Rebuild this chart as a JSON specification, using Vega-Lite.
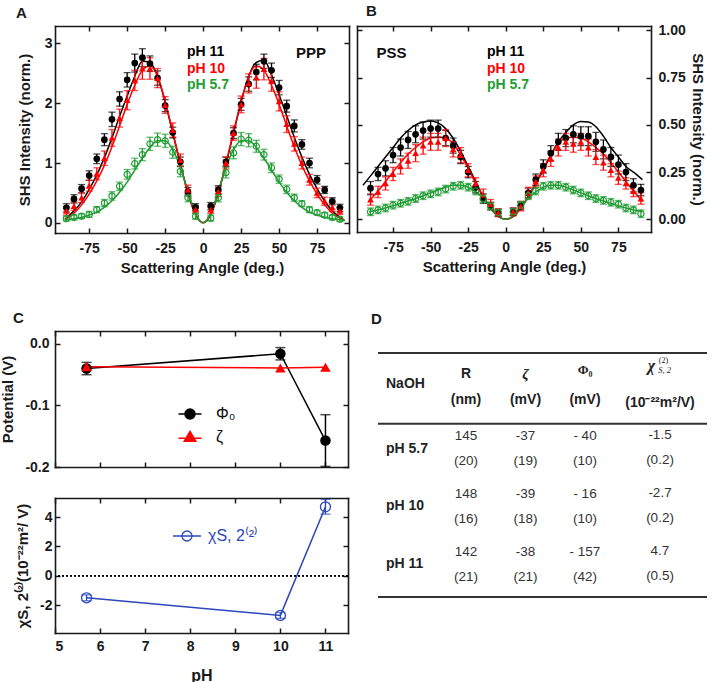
{
  "$schema": "https://vega.github.io/schema/vega-lite/v6.json",
  "padding": {"left": 0, "top": 4, "right": 0, "bottom": 0},
  "background": "white",
  "columns": 2,
  "align": "none",
  "bounds": "flush",
  "spacing": {"row": 31, "column": 29},
  "resolve": {"scale": {"color": "independent", "shape": "independent"}, "legend": {"color": "independent", "shape": "independent"}},
  "concat": [
    {
      "width": 294,
      "height": 274,
      "title": {"text": "A", "dx": -39},
      "layer": [
        {
          "data": {"name": "fitA"},
          "mark": {"type": "line", "interpolate": "monotone", "strokeWidth": 1.5},
          "encoding": {
            "x": {"field": "deg", "type": "quantitative", "scale": {"domain": [-97.5, 96], "nice": false, "zero": false},
                  "axis": {"offset": -67, "values": [-75, -50, -25, 0, 25, 50, 75], "labelExpr": "replace(datum.label, '\u2212', '-')", "title": "Scattering Angle (deg.)", "labelPadding": 13, "titlePadding": 5}},
            "y": {"field": "val", "type": "quantitative", "scale": {"domain": [-0.17, 3.29], "nice": false, "zero": false, "range": [207, 0]},
                  "axis": {"values": [0, 1, 2, 3], "title": "SHS Intensity (norm.)", "labelPadding": 8, "titlePadding": 12}},
            "color": {"field": "series", "type": "nominal",
                      "scale": {"domain": ["pH 11", "pH 10", "pH 5.7"], "range": ["#000000", "#ff0000", "#1f9d33"]},
                      "legend": {"orient": "none", "legendX": 118, "legendY": 19, "title": null, "symbolSize": 0, "symbolOpacity": 0, "symbolStrokeWidth": 0, "labelOffset": 0, "labelFontSize": 14, "labelFontWeight": "bold", "rowPadding": 2.5,
                                 "encode": {"labels": {"update": {"fill": {"signal": "datum.value === 'pH 11' ? '#000000' : datum.value === 'pH 10' ? '#ff0000' : '#1f9d33'"}}}}}}
          }
        },
        {
          "data": {"name": "ptsA"},
          "mark": {"type": "errorbar", "ticks": {"size": 7}, "thickness": 1.3},
          "encoding": {
            "x": {"field": "deg", "type": "quantitative", "axis": null},
            "y": {"field": "val", "type": "quantitative", "axis": null},
            "yError": {"field": "err"},
            "color": {"field": "series", "type": "nominal"}
          }
        },
        {
          "data": {"name": "ptsA"},
          "transform": [{"filter": "datum.series === 'pH 11'"}],
          "mark": {"type": "point", "shape": "circle", "filled": true, "size": 45, "opacity": 1},
          "encoding": {
            "x": {"field": "deg", "type": "quantitative", "axis": null},
            "y": {"field": "val", "type": "quantitative", "axis": null},
            "color": {"field": "series", "type": "nominal"}
          }
        },
        {
          "data": {"name": "ptsA"},
          "transform": [{"filter": "datum.series === 'pH 10'"}],
          "mark": {"type": "point", "shape": "triangle-up", "filled": true, "size": 45, "opacity": 1},
          "encoding": {
            "x": {"field": "deg", "type": "quantitative", "axis": null},
            "y": {"field": "val", "type": "quantitative", "axis": null},
            "color": {"field": "series", "type": "nominal"}
          }
        },
        {
          "data": {"name": "ptsA"},
          "transform": [{"filter": "datum.series === 'pH 5.7'"}],
          "mark": {"type": "point", "filled": false, "size": 38, "strokeWidth": 1.2, "opacity": 1},
          "encoding": {
            "x": {"field": "deg", "type": "quantitative", "axis": null},
            "y": {"field": "val", "type": "quantitative", "axis": null},
            "color": {"field": "series", "type": "nominal"}
          }
        },
        {
          "data": {"values": [{"label": "PPP"}]},
          "mark": {"type": "text", "fontSize": 15, "fontWeight": "bold", "color": "#111111", "font": "Liberation Sans"},
          "encoding": {
            "text": {"field": "label"},
            "x": {"datum": 71, "type": "quantitative", "axis": {"orient": "top", "labels": false, "title": null, "values": [-75, -50, -25, 0, 25, 50, 75]}},
            "y": {"datum": 2.84, "type": "quantitative", "axis": {"orient": "right", "labels": false, "title": null, "values": [0, 1, 2, 3]}}
          }
        }
      ],
      "resolve": {"axis": {"x": "independent", "y": "independent"}}
    },
    {
      "width": 273,
      "height": 274,
      "title": {"text": "B", "dx": -12},
      "layer": [
        {
          "data": {"name": "fitB"},
          "mark": {"type": "line", "interpolate": "monotone", "strokeWidth": 1.5},
          "encoding": {
            "x": {"field": "deg", "type": "quantitative", "scale": {"domain": [-99, 96.7], "nice": false, "zero": false, "range": [-21, 273]},
                  "axis": {"offset": -68, "values": [-75, -50, -25, 0, 25, 50, 75], "labelExpr": "replace(datum.label, '\u2212', '-')", "title": "Scattering Angle (deg.)", "labelPadding": 13, "titlePadding": 5}},
            "y": {"field": "val", "type": "quantitative", "scale": {"domain": [-0.067, 1.023], "nice": false, "zero": false, "range": [206, 0]},
                  "axis": {"orient": "right", "values": [0, 0.25, 0.5, 0.75, 1], "format": ".2f", "title": "SHS Intensity (norm.)", "labelPadding": 12, "titlePadding": 4}},
            "color": {"field": "series", "type": "nominal",
                      "scale": {"domain": ["pH 11", "pH 10", "pH 5.7"], "range": ["#000000", "#ff0000", "#1f9d33"]},
                      "legend": {"orient": "none", "legendX": 95, "legendY": 19, "title": null, "symbolSize": 0, "symbolOpacity": 0, "symbolStrokeWidth": 0, "labelOffset": 0, "labelFontSize": 14, "labelFontWeight": "bold", "rowPadding": 2.5,
                                 "encode": {"labels": {"update": {"fill": {"signal": "datum.value === 'pH 11' ? '#000000' : datum.value === 'pH 10' ? '#ff0000' : '#1f9d33'"}}}}}}
          }
        },
        {
          "data": {"name": "ptsB"},
          "mark": {"type": "errorbar", "ticks": {"size": 7}, "thickness": 1.3},
          "encoding": {
            "x": {"field": "deg", "type": "quantitative", "axis": null},
            "y": {"field": "val", "type": "quantitative", "axis": null},
            "yError": {"field": "err"},
            "color": {"field": "series", "type": "nominal"}
          }
        },
        {
          "data": {"name": "ptsB"},
          "transform": [{"filter": "datum.series === 'pH 11'"}],
          "mark": {"type": "point", "shape": "circle", "filled": true, "size": 45, "opacity": 1},
          "encoding": {
            "x": {"field": "deg", "type": "quantitative", "axis": null},
            "y": {"field": "val", "type": "quantitative", "axis": null},
            "color": {"field": "series", "type": "nominal"}
          }
        },
        {
          "data": {"name": "ptsB"},
          "transform": [{"filter": "datum.series === 'pH 10'"}],
          "mark": {"type": "point", "shape": "triangle-up", "filled": true, "size": 45, "opacity": 1},
          "encoding": {
            "x": {"field": "deg", "type": "quantitative", "axis": null},
            "y": {"field": "val", "type": "quantitative", "axis": null},
            "color": {"field": "series", "type": "nominal"}
          }
        },
        {
          "data": {"name": "ptsB"},
          "transform": [{"filter": "datum.series === 'pH 5.7'"}],
          "mark": {"type": "point", "filled": false, "size": 38, "strokeWidth": 1.2, "opacity": 1},
          "encoding": {
            "x": {"field": "deg", "type": "quantitative", "axis": null},
            "y": {"field": "val", "type": "quantitative", "axis": null},
            "color": {"field": "series", "type": "nominal"}
          }
        },
        {
          "data": {"values": [{"label": "PSS"}]},
          "mark": {"type": "text", "fontSize": 15, "fontWeight": "bold", "color": "#111111", "font": "Liberation Sans"},
          "encoding": {
            "text": {"field": "label"},
            "x": {"datum": -76, "type": "quantitative", "axis": {"orient": "top", "labels": false, "title": null, "values": [-75, -50, -25, 0, 25, 50, 75]}},
            "y": {"datum": 0.88, "type": "quantitative", "axis": {"orient": "left", "offset": 21, "labels": false, "title": null, "values": [0, 0.25, 0.5, 0.75, 1]}}
          }
        }
      ],
      "resolve": {"axis": {"x": "independent", "y": "independent"}}
    },
    {
      "width": 293,
      "height": 136,
      "title": {"text": "C", "dx": -42},
      "data": {"name": "pot"},
      "layer": [
        {
          "mark": {"type": "line", "strokeWidth": 1.5},
          "encoding": {
            "x": {"field": "pH", "type": "quantitative", "scale": {"domain": [5, 11.5], "nice": false, "zero": false},
                  "axis": {"values": [5, 6, 7, 8, 9, 10, 11], "labels": false, "title": null}},
            "y": {"field": "val", "type": "quantitative", "scale": {"domain": [-0.2, 0.021], "nice": false, "zero": false},
                  "axis": {"values": [0, -0.1, -0.2], "format": ".1f", "labelExpr": "replace(datum.label, '\u2212', '-')", "title": "Potential (V)", "labelPadding": 11, "titlePadding": 9}},
            "color": {"field": "series", "type": "nominal",
                      "scale": {"domain": ["Φ₀", "ζ"], "range": ["#000000", "#ff0000"]},
                      "legend": {"orient": "none", "legendX": 127, "legendY": 75, "title": null, "symbolSize": 100, "symbolStrokeWidth": 1.5, "labelOffset": 18, "labelFontSize": 16, "labelColor": "#111111", "rowPadding": 6,
                                 "encode": {"symbols": {"update": {
                                   "shape": {"signal": "datum.value === 'Φ₀' ? 'M-2.3,0L2.3,0M-1,0A1,1,0,1,1,1,0A1,1,0,1,1,-1,0Z' : 'M-2.3,0.25L2.3,0.25M0,-1.1L1.15,0.85L-1.15,0.85Z'"},
                                   "strokeWidth": {"value": 1.5},
                                   "opacity": {"value": 1}}}}}}
          }
        },
        {
          "transform": [{"filter": "datum.err > 0"}],
          "mark": {"type": "errorbar", "ticks": {"size": 10}, "thickness": 1.5},
          "encoding": {
            "x": {"field": "pH", "type": "quantitative", "axis": null},
            "y": {"field": "val", "type": "quantitative", "axis": null},
            "yError": {"field": "err"},
            "color": {"field": "series", "type": "nominal"}
          }
        },
        {
          "transform": [{"filter": "datum.series === 'Φ₀'"}],
          "mark": {"type": "point", "shape": "circle", "filled": true, "size": 110, "opacity": 1},
          "encoding": {
            "x": {"field": "pH", "type": "quantitative", "axis": null},
            "y": {"field": "val", "type": "quantitative", "axis": null},
            "color": {"field": "series", "type": "nominal"}
          }
        },
        {
          "transform": [{"filter": "datum.series === 'ζ'"}],
          "mark": {"type": "point", "shape": "triangle-up", "filled": true, "size": 110, "opacity": 1},
          "encoding": {
            "x": {"field": "pH", "type": "quantitative", "axis": null},
            "y": {"field": "val", "type": "quantitative", "axis": null},
            "color": {"field": "series", "type": "nominal"}
          }
        },
        {
          "mark": {"type": "point", "opacity": 0},
          "encoding": {
            "x": {"field": "pH", "type": "quantitative", "axis": {"orient": "top", "values": [5, 6, 7, 8, 9, 10, 11], "labels": false, "title": null}},
            "y": {"field": "val", "type": "quantitative", "axis": {"orient": "right", "values": [0, -0.1, -0.2], "labels": false, "title": null}}
          }
        }
      ],
      "resolve": {"axis": {"x": "independent", "y": "independent"}}
    },
    {
      "width": 329,
      "height": 136,
      "title": {"text": "D", "dx": -7},
      "layer": [
        {
          "data": {"values": [{"row": "header"}]},
          "mark": {"type": "rule", "color": "#333333", "strokeWidth": 2},
          "encoding": {
            "y": {"field": "row", "type": "nominal", "bandPosition": -0.225,
                  "scale": {"type": "band", "domain": ["header", "pH 5.7", "pH 10", "pH 11"], "range": [35, 266], "paddingInner": 0, "paddingOuter": 0},
                  "axis": null}
          }
        },
        {
          "data": {"values": [{"row": "header"}]},
          "mark": {"type": "rule", "color": "#333333", "strokeWidth": 2},
          "encoding": {"y": {"field": "row", "type": "nominal", "bandPosition": 1, "axis": null}}
        },
        {
          "data": {"values": [{"row": "pH 11"}]},
          "mark": {"type": "rule", "color": "#333333", "strokeWidth": 2},
          "encoding": {"y": {"field": "row", "type": "nominal", "bandPosition": 1, "axis": null}}
        },
        {
          "data": {"name": "table"},
          "transform": [{"filter": "datum.label && datum.row !== 'header'"}],
          "mark": {"type": "text", "align": "left", "dx": -20.5, "dy": -4, "fontSize": 14, "fontWeight": "bold", "color": "#222222", "font": "Liberation Sans"},
          "encoding": {
            "x": {"field": "col", "type": "nominal", "scale": {"type": "point", "domain": ["NaOH", "R", "zeta", "Phi", "chi"], "range": [28.5, 266.5], "padding": 0}, "axis": null},
            "y": {"field": "row", "type": "nominal", "axis": null},
            "text": {"field": "label"}
          }
        },
        {
          "data": {"name": "table"},
          "transform": [{"filter": "datum.label && datum.row === 'header'"}],
          "mark": {"type": "text", "align": "left", "dx": -20.5, "dy": -11, "fontSize": 14, "fontWeight": "bold", "color": "#222222", "font": "Liberation Sans"},
          "encoding": {
            "x": {"field": "col", "type": "nominal", "axis": null},
            "y": {"field": "row", "type": "nominal", "axis": null},
            "text": {"field": "label"}
          }
        },
        {
          "data": {"name": "table"},
          "transform": [{"filter": "datum.row === 'header' && datum.col === 'R'"}],
          "mark": {"type": "text", "dy": -21, "fontSize": 14, "fontWeight": "bold", "color": "#222222", "font": "Liberation Sans"},
          "encoding": {
            "x": {"field": "col", "type": "nominal", "axis": null},
            "y": {"field": "row", "type": "nominal", "axis": null},
            "text": {"field": "top"}
          }
        },
        {
          "data": {"name": "table"},
          "transform": [{"filter": "datum.row === 'header' && datum.col === 'Phi'"}],
          "mark": {"type": "text", "dy": -25, "fontSize": 13, "fontWeight": "bold", "color": "#222222", "font": "Liberation Serif"},
          "encoding": {
            "x": {"field": "col", "type": "nominal", "axis": null},
            "y": {"field": "row", "type": "nominal", "axis": null},
            "text": {"field": "top"}
          }
        },
        {
          "data": {"name": "table"},
          "transform": [{"filter": "datum.row === 'header' && datum.col === 'zeta'"}],
          "mark": {"type": "text", "dy": -21, "fontSize": 15, "fontWeight": "bold", "fontStyle": "italic", "color": "#222222", "font": "Liberation Serif"},
          "encoding": {
            "x": {"field": "col", "type": "nominal", "axis": null},
            "y": {"field": "row", "type": "nominal", "axis": null},
            "text": {"field": "top"}
          }
        },
        {
          "data": {"name": "table"},
          "transform": [{"filter": "datum.row === 'header' && datum.col === 'chi'"}],
          "mark": {"type": "text", "dx": 7, "dy": -29, "fontSize": 16, "fontWeight": "bold", "fontStyle": "italic", "color": "#222222", "font": "Liberation Serif"},
          "encoding": {
            "x": {"field": "col", "type": "nominal", "axis": null},
            "y": {"field": "row", "type": "nominal", "axis": null},
            "text": {"field": "top"}
          }
        },
        {
          "data": {"name": "table"},
          "transform": [{"filter": "datum.row === 'header' && datum.col === 'chi'"}],
          "mark": {"type": "text", "dx": 19, "dy": -34, "fontSize": 8, "color": "#222222", "font": "Liberation Serif"},
          "encoding": {
            "x": {"field": "col", "type": "nominal", "axis": null},
            "y": {"field": "row", "type": "nominal", "axis": null},
            "text": {"field": "sup"}
          }
        },
        {
          "data": {"name": "table"},
          "transform": [{"filter": "datum.row === 'header' && datum.col === 'chi'"}],
          "mark": {"type": "text", "dx": 20, "dy": -25, "fontSize": 8.5, "fontStyle": "italic", "color": "#222222", "font": "Liberation Serif"},
          "encoding": {
            "x": {"field": "col", "type": "nominal", "axis": null},
            "y": {"field": "row", "type": "nominal", "axis": null},
            "text": {"field": "sub"}
          }
        },
        {
          "data": {"name": "table"},
          "transform": [{"filter": "datum.row === 'header' && datum.bot && datum.col !== 'chi'"}],
          "mark": {"type": "text", "dy": 5, "fontSize": 14, "fontWeight": "bold", "color": "#222222", "font": "Liberation Sans"},
          "encoding": {
            "x": {"field": "col", "type": "nominal", "axis": null},
            "y": {"field": "row", "type": "nominal", "axis": null},
            "text": {"field": "bot"}
          }
        },
        {
          "data": {"name": "table"},
          "transform": [{"filter": "datum.row === 'header' && datum.col === 'chi'"}],
          "mark": {"type": "text", "dx": 15.5, "dy": 8, "fontSize": 14, "fontWeight": "bold", "color": "#222222", "font": "Liberation Sans"},
          "encoding": {
            "x": {"field": "col", "type": "nominal", "axis": null},
            "y": {"field": "row", "type": "nominal", "axis": null},
            "text": {"field": "bot"}
          }
        },
        {
          "data": {"name": "table"},
          "transform": [{"filter": "datum.row !== 'header' && datum.top && datum.col !== 'chi'"}],
          "mark": {"type": "text", "dy": -16.5, "fontSize": 13.5, "color": "#333333", "font": "Liberation Sans"},
          "encoding": {
            "x": {"field": "col", "type": "nominal", "axis": null},
            "y": {"field": "row", "type": "nominal", "axis": null},
            "text": {"field": "top"}
          }
        },
        {
          "data": {"name": "table"},
          "transform": [{"filter": "datum.row !== 'header' && datum.bot && datum.col !== 'chi'"}],
          "mark": {"type": "text", "dy": 8.5, "fontSize": 13.5, "color": "#333333", "font": "Liberation Sans"},
          "encoding": {
            "x": {"field": "col", "type": "nominal", "axis": null},
            "y": {"field": "row", "type": "nominal", "axis": null},
            "text": {"field": "bot"}
          }
        },
        {
          "data": {"name": "table"},
          "transform": [{"filter": "datum.row !== 'header' && datum.col === 'chi'"}],
          "mark": {"type": "text", "dx": 15.5, "dy": -17.5, "fontSize": 13.5, "color": "#333333", "font": "Liberation Sans"},
          "encoding": {
            "x": {"field": "col", "type": "nominal", "axis": null},
            "y": {"field": "row", "type": "nominal", "axis": null},
            "text": {"field": "top"}
          }
        },
        {
          "data": {"name": "table"},
          "transform": [{"filter": "datum.row !== 'header' && datum.col === 'chi'"}],
          "mark": {"type": "text", "dx": 15.5, "dy": 7.5, "fontSize": 13.5, "color": "#333333", "font": "Liberation Sans"},
          "encoding": {
            "x": {"field": "col", "type": "nominal", "axis": null},
            "y": {"field": "row", "type": "nominal", "axis": null},
            "text": {"field": "bot"}
          }
        }
      ]
    },
    {
      "width": 293,
      "height": 135,
      "data": {"name": "chi"},
      "layer": [
        {
          "mark": {"type": "rule", "strokeDash": [2, 2], "strokeWidth": 1.3, "color": "#000000"},
          "encoding": {
            "y": {"datum": 0, "type": "quantitative", "scale": {"domain": [-3.9, 5.3], "nice": false, "zero": false},
                  "axis": {"values": [-2, 0, 2, 4], "labelExpr": "replace(datum.label, '\u2212', '-')", "title": "χS, 2⁽²⁾(10⁻²²m²/ V)", "labelPadding": 8, "titlePadding": 9}}
          }
        },
        {
          "mark": {"type": "line", "strokeWidth": 1.5},
          "encoding": {
            "x": {"field": "pH", "type": "quantitative", "scale": {"domain": [5, 11.5], "nice": false, "zero": false},
                  "axis": {"values": [5, 6, 7, 8, 9, 10, 11], "title": "pH", "titleFontSize": 16, "labelPadding": 11, "titlePadding": 14}},
            "y": {"field": "val", "type": "quantitative", "axis": null},
            "color": {"field": "series", "type": "nominal",
                      "scale": {"domain": ["χS, 2⁽²⁾"], "range": ["#2b48bb"]},
                      "legend": {"orient": "none", "legendX": 124, "legendY": 30, "title": null, "symbolSize": 100, "symbolStrokeWidth": 1.3, "labelOffset": 13, "labelFontSize": 16, "labelColor": "#2b48bb",
                                 "encode": {"symbols": {"update": {
                                   "shape": {"value": "M-2.8,0L2.8,0M-1,0A1,1,0,1,1,1,0A1,1,0,1,1,-1,0Z"},
                                   "fillOpacity": {"value": 0},
                                   "stroke": {"value": "#2b48bb"},
                                   "strokeWidth": {"value": 1.3},
                                   "opacity": {"value": 1}}}}}}
          }
        },
        {
          "mark": {"type": "errorbar", "ticks": {"size": 10}, "thickness": 1.3},
          "encoding": {
            "x": {"field": "pH", "type": "quantitative", "axis": null},
            "y": {"field": "val", "type": "quantitative", "axis": null},
            "yError": {"field": "err"},
            "color": {"field": "series", "type": "nominal"}
          }
        },
        {
          "mark": {"type": "point", "filled": false, "size": 100, "strokeWidth": 1.3, "opacity": 1},
          "encoding": {
            "x": {"field": "pH", "type": "quantitative", "axis": {"orient": "top", "values": [5, 6, 7, 8, 9, 10, 11], "labels": false, "title": null}},
            "y": {"field": "val", "type": "quantitative", "axis": {"orient": "right", "values": [-2, 0, 2, 4], "labels": false, "title": null}},
            "color": {"field": "series", "type": "nominal"}
          }
        }
      ],
      "resolve": {"axis": {"x": "independent", "y": "independent"}}
    }
  ],
  "datasets": {
    "ptsA": [
      {"series": "pH 11", "deg": -90, "val": 0.25, "err": 0.07},
      {"series": "pH 11", "deg": -85, "val": 0.40, "err": 0.07},
      {"series": "pH 11", "deg": -80, "val": 0.57, "err": 0.07},
      {"series": "pH 11", "deg": -75, "val": 0.79, "err": 0.08},
      {"series": "pH 11", "deg": -70, "val": 1.07, "err": 0.08},
      {"series": "pH 11", "deg": -65, "val": 1.39, "err": 0.10},
      {"series": "pH 11", "deg": -60, "val": 1.73, "err": 0.12},
      {"series": "pH 11", "deg": -55, "val": 2.07, "err": 0.12},
      {"series": "pH 11", "deg": -50, "val": 2.39, "err": 0.12},
      {"series": "pH 11", "deg": -45, "val": 2.67, "err": 0.15},
      {"series": "pH 11", "deg": -40, "val": 2.76, "err": 0.15},
      {"series": "pH 11", "deg": -35, "val": 2.66, "err": 0.13},
      {"series": "pH 11", "deg": -30, "val": 2.42, "err": 0.12},
      {"series": "pH 11", "deg": -25, "val": 1.96, "err": 0.10},
      {"series": "pH 11", "deg": -20, "val": 1.51, "err": 0.09},
      {"series": "pH 11", "deg": -15, "val": 1.02, "err": 0.08},
      {"series": "pH 11", "deg": -10, "val": 0.52, "err": 0.07},
      {"series": "pH 11", "deg": -5, "val": 0.26, "err": 0.06},
      {"series": "pH 11", "deg": 5, "val": 0.28, "err": 0.06},
      {"series": "pH 11", "deg": 10, "val": 0.55, "err": 0.07},
      {"series": "pH 11", "deg": 15, "val": 1.02, "err": 0.08},
      {"series": "pH 11", "deg": 20, "val": 1.50, "err": 0.09},
      {"series": "pH 11", "deg": 25, "val": 1.98, "err": 0.10},
      {"series": "pH 11", "deg": 30, "val": 2.32, "err": 0.12},
      {"series": "pH 11", "deg": 35, "val": 2.52, "err": 0.13},
      {"series": "pH 11", "deg": 40, "val": 2.70, "err": 0.12},
      {"series": "pH 11", "deg": 45, "val": 2.55, "err": 0.12},
      {"series": "pH 11", "deg": 50, "val": 2.26, "err": 0.12},
      {"series": "pH 11", "deg": 55, "val": 1.95, "err": 0.10},
      {"series": "pH 11", "deg": 60, "val": 1.62, "err": 0.10},
      {"series": "pH 11", "deg": 65, "val": 1.31, "err": 0.08},
      {"series": "pH 11", "deg": 70, "val": 1.00, "err": 0.08},
      {"series": "pH 11", "deg": 75, "val": 0.72, "err": 0.07},
      {"series": "pH 11", "deg": 80, "val": 0.55, "err": 0.06},
      {"series": "pH 11", "deg": 85, "val": 0.36, "err": 0.06},
      {"series": "pH 11", "deg": 90, "val": 0.25, "err": 0.06},
      {"series": "pH 10", "deg": -90, "val": 0.20, "err": 0.07},
      {"series": "pH 10", "deg": -85, "val": 0.28, "err": 0.07},
      {"series": "pH 10", "deg": -80, "val": 0.42, "err": 0.08},
      {"series": "pH 10", "deg": -75, "val": 0.62, "err": 0.09},
      {"series": "pH 10", "deg": -70, "val": 0.82, "err": 0.10},
      {"series": "pH 10", "deg": -65, "val": 1.08, "err": 0.12},
      {"series": "pH 10", "deg": -60, "val": 1.42, "err": 0.14},
      {"series": "pH 10", "deg": -55, "val": 1.75, "err": 0.15},
      {"series": "pH 10", "deg": -50, "val": 2.05, "err": 0.16},
      {"series": "pH 10", "deg": -45, "val": 2.38, "err": 0.17},
      {"series": "pH 10", "deg": -40, "val": 2.58, "err": 0.18},
      {"series": "pH 10", "deg": -35, "val": 2.58, "err": 0.18},
      {"series": "pH 10", "deg": -30, "val": 2.42, "err": 0.16},
      {"series": "pH 10", "deg": -25, "val": 1.97, "err": 0.14},
      {"series": "pH 10", "deg": -20, "val": 1.55, "err": 0.12},
      {"series": "pH 10", "deg": -15, "val": 1.05, "err": 0.10},
      {"series": "pH 10", "deg": -10, "val": 0.55, "err": 0.08},
      {"series": "pH 10", "deg": -5, "val": 0.22, "err": 0.06},
      {"series": "pH 10", "deg": 5, "val": 0.22, "err": 0.06},
      {"series": "pH 10", "deg": 10, "val": 0.52, "err": 0.08},
      {"series": "pH 10", "deg": 15, "val": 1.00, "err": 0.10},
      {"series": "pH 10", "deg": 20, "val": 1.50, "err": 0.12},
      {"series": "pH 10", "deg": 25, "val": 1.98, "err": 0.14},
      {"series": "pH 10", "deg": 30, "val": 2.33, "err": 0.16},
      {"series": "pH 10", "deg": 35, "val": 2.43, "err": 0.18},
      {"series": "pH 10", "deg": 40, "val": 2.57, "err": 0.18},
      {"series": "pH 10", "deg": 45, "val": 2.37, "err": 0.17},
      {"series": "pH 10", "deg": 50, "val": 2.03, "err": 0.16},
      {"series": "pH 10", "deg": 55, "val": 1.65, "err": 0.14},
      {"series": "pH 10", "deg": 60, "val": 1.32, "err": 0.12},
      {"series": "pH 10", "deg": 65, "val": 1.00, "err": 0.10},
      {"series": "pH 10", "deg": 70, "val": 0.72, "err": 0.09},
      {"series": "pH 10", "deg": 75, "val": 0.50, "err": 0.08},
      {"series": "pH 10", "deg": 80, "val": 0.36, "err": 0.07},
      {"series": "pH 10", "deg": 85, "val": 0.26, "err": 0.07},
      {"series": "pH 10", "deg": 90, "val": 0.20, "err": 0.06},
      {"series": "pH 5.7", "deg": -90, "val": 0.07, "err": 0.04},
      {"series": "pH 5.7", "deg": -85, "val": 0.09, "err": 0.04},
      {"series": "pH 5.7", "deg": -80, "val": 0.11, "err": 0.04},
      {"series": "pH 5.7", "deg": -75, "val": 0.14, "err": 0.05},
      {"series": "pH 5.7", "deg": -70, "val": 0.22, "err": 0.05},
      {"series": "pH 5.7", "deg": -65, "val": 0.33, "err": 0.06},
      {"series": "pH 5.7", "deg": -60, "val": 0.45, "err": 0.07},
      {"series": "pH 5.7", "deg": -55, "val": 0.61, "err": 0.07},
      {"series": "pH 5.7", "deg": -50, "val": 0.81, "err": 0.08},
      {"series": "pH 5.7", "deg": -45, "val": 0.99, "err": 0.09},
      {"series": "pH 5.7", "deg": -40, "val": 1.14, "err": 0.10},
      {"series": "pH 5.7", "deg": -35, "val": 1.32, "err": 0.11},
      {"series": "pH 5.7", "deg": -30, "val": 1.39, "err": 0.11},
      {"series": "pH 5.7", "deg": -25, "val": 1.37, "err": 0.11},
      {"series": "pH 5.7", "deg": -20, "val": 1.18, "err": 0.10},
      {"series": "pH 5.7", "deg": -15, "val": 0.86, "err": 0.09},
      {"series": "pH 5.7", "deg": -10, "val": 0.42, "err": 0.07},
      {"series": "pH 5.7", "deg": -5, "val": 0.11, "err": 0.05},
      {"series": "pH 5.7", "deg": 5, "val": 0.08, "err": 0.05},
      {"series": "pH 5.7", "deg": 10, "val": 0.42, "err": 0.07},
      {"series": "pH 5.7", "deg": 15, "val": 0.84, "err": 0.09},
      {"series": "pH 5.7", "deg": 20, "val": 1.17, "err": 0.10},
      {"series": "pH 5.7", "deg": 25, "val": 1.40, "err": 0.11},
      {"series": "pH 5.7", "deg": 30, "val": 1.38, "err": 0.11},
      {"series": "pH 5.7", "deg": 35, "val": 1.28, "err": 0.10},
      {"series": "pH 5.7", "deg": 40, "val": 1.14, "err": 0.09},
      {"series": "pH 5.7", "deg": 45, "val": 0.92, "err": 0.08},
      {"series": "pH 5.7", "deg": 50, "val": 0.73, "err": 0.07},
      {"series": "pH 5.7", "deg": 55, "val": 0.56, "err": 0.07},
      {"series": "pH 5.7", "deg": 60, "val": 0.42, "err": 0.06},
      {"series": "pH 5.7", "deg": 65, "val": 0.32, "err": 0.05},
      {"series": "pH 5.7", "deg": 70, "val": 0.22, "err": 0.05},
      {"series": "pH 5.7", "deg": 75, "val": 0.17, "err": 0.04},
      {"series": "pH 5.7", "deg": 80, "val": 0.13, "err": 0.04},
      {"series": "pH 5.7", "deg": 85, "val": 0.09, "err": 0.04},
      {"series": "pH 5.7", "deg": 90, "val": 0.06, "err": 0.04}
    ],
    "fitA": [
      {"series": "pH 11", "deg": -91, "val": 0.06}, {"series": "pH 11", "deg": -85, "val": 0.20}, {"series": "pH 11", "deg": -80, "val": 0.35}, {"series": "pH 11", "deg": -75, "val": 0.56}, {"series": "pH 11", "deg": -70, "val": 0.80}, {"series": "pH 11", "deg": -65, "val": 1.09}, {"series": "pH 11", "deg": -60, "val": 1.42}, {"series": "pH 11", "deg": -55, "val": 1.78}, {"series": "pH 11", "deg": -50, "val": 2.12}, {"series": "pH 11", "deg": -45, "val": 2.45}, {"series": "pH 11", "deg": -40, "val": 2.70}, {"series": "pH 11", "deg": -35, "val": 2.68}, {"series": "pH 11", "deg": -30, "val": 2.45}, {"series": "pH 11", "deg": -25, "val": 2.02}, {"series": "pH 11", "deg": -20, "val": 1.50}, {"series": "pH 11", "deg": -15, "val": 0.98}, {"series": "pH 11", "deg": -10, "val": 0.50}, {"series": "pH 11", "deg": -5, "val": 0.14}, {"series": "pH 11", "deg": 0, "val": 0.0},
      {"series": "pH 11", "deg": 5, "val": 0.14}, {"series": "pH 11", "deg": 10, "val": 0.50}, {"series": "pH 11", "deg": 15, "val": 0.98}, {"series": "pH 11", "deg": 20, "val": 1.50}, {"series": "pH 11", "deg": 25, "val": 2.02}, {"series": "pH 11", "deg": 30, "val": 2.45}, {"series": "pH 11", "deg": 35, "val": 2.68}, {"series": "pH 11", "deg": 40, "val": 2.72}, {"series": "pH 11", "deg": 45, "val": 2.47}, {"series": "pH 11", "deg": 50, "val": 2.14}, {"series": "pH 11", "deg": 55, "val": 1.79}, {"series": "pH 11", "deg": 60, "val": 1.43}, {"series": "pH 11", "deg": 65, "val": 1.10}, {"series": "pH 11", "deg": 70, "val": 0.81}, {"series": "pH 11", "deg": 75, "val": 0.57}, {"series": "pH 11", "deg": 80, "val": 0.36}, {"series": "pH 11", "deg": 85, "val": 0.20}, {"series": "pH 11", "deg": 93, "val": 0.04},
      {"series": "pH 10", "deg": -91, "val": 0.05}, {"series": "pH 10", "deg": -85, "val": 0.16}, {"series": "pH 10", "deg": -80, "val": 0.30}, {"series": "pH 10", "deg": -75, "val": 0.48}, {"series": "pH 10", "deg": -70, "val": 0.70}, {"series": "pH 10", "deg": -65, "val": 0.96}, {"series": "pH 10", "deg": -60, "val": 1.27}, {"series": "pH 10", "deg": -55, "val": 1.62}, {"series": "pH 10", "deg": -50, "val": 1.98}, {"series": "pH 10", "deg": -45, "val": 2.30}, {"series": "pH 10", "deg": -40, "val": 2.55}, {"series": "pH 10", "deg": -35, "val": 2.62}, {"series": "pH 10", "deg": -30, "val": 2.45}, {"series": "pH 10", "deg": -25, "val": 2.03}, {"series": "pH 10", "deg": -20, "val": 1.52}, {"series": "pH 10", "deg": -15, "val": 0.99}, {"series": "pH 10", "deg": -10, "val": 0.50}, {"series": "pH 10", "deg": -5, "val": 0.14}, {"series": "pH 10", "deg": 0, "val": 0.0},
      {"series": "pH 10", "deg": 5, "val": 0.14}, {"series": "pH 10", "deg": 10, "val": 0.50}, {"series": "pH 10", "deg": 15, "val": 0.99}, {"series": "pH 10", "deg": 20, "val": 1.52}, {"series": "pH 10", "deg": 25, "val": 2.03}, {"series": "pH 10", "deg": 30, "val": 2.45}, {"series": "pH 10", "deg": 35, "val": 2.62}, {"series": "pH 10", "deg": 40, "val": 2.55}, {"series": "pH 10", "deg": 45, "val": 2.30}, {"series": "pH 10", "deg": 50, "val": 1.98}, {"series": "pH 10", "deg": 55, "val": 1.62}, {"series": "pH 10", "deg": 60, "val": 1.27}, {"series": "pH 10", "deg": 65, "val": 0.96}, {"series": "pH 10", "deg": 70, "val": 0.70}, {"series": "pH 10", "deg": 75, "val": 0.48}, {"series": "pH 10", "deg": 80, "val": 0.30}, {"series": "pH 10", "deg": 85, "val": 0.16}, {"series": "pH 10", "deg": 93, "val": 0.04},
      {"series": "pH 5.7", "deg": -91, "val": 0.05}, {"series": "pH 5.7", "deg": -85, "val": 0.07}, {"series": "pH 5.7", "deg": -80, "val": 0.09}, {"series": "pH 5.7", "deg": -75, "val": 0.13}, {"series": "pH 5.7", "deg": -70, "val": 0.18}, {"series": "pH 5.7", "deg": -65, "val": 0.26}, {"series": "pH 5.7", "deg": -60, "val": 0.37}, {"series": "pH 5.7", "deg": -55, "val": 0.51}, {"series": "pH 5.7", "deg": -50, "val": 0.68}, {"series": "pH 5.7", "deg": -45, "val": 0.88}, {"series": "pH 5.7", "deg": -40, "val": 1.08}, {"series": "pH 5.7", "deg": -35, "val": 1.26}, {"series": "pH 5.7", "deg": -30, "val": 1.37}, {"series": "pH 5.7", "deg": -25, "val": 1.37}, {"series": "pH 5.7", "deg": -20, "val": 1.22}, {"series": "pH 5.7", "deg": -15, "val": 0.93}, {"series": "pH 5.7", "deg": -10, "val": 0.53}, {"series": "pH 5.7", "deg": -5, "val": 0.16}, {"series": "pH 5.7", "deg": 0, "val": 0.0},
      {"series": "pH 5.7", "deg": 5, "val": 0.16}, {"series": "pH 5.7", "deg": 10, "val": 0.53}, {"series": "pH 5.7", "deg": 15, "val": 0.93}, {"series": "pH 5.7", "deg": 20, "val": 1.22}, {"series": "pH 5.7", "deg": 25, "val": 1.37}, {"series": "pH 5.7", "deg": 30, "val": 1.37}, {"series": "pH 5.7", "deg": 35, "val": 1.26}, {"series": "pH 5.7", "deg": 40, "val": 1.08}, {"series": "pH 5.7", "deg": 45, "val": 0.88}, {"series": "pH 5.7", "deg": 50, "val": 0.68}, {"series": "pH 5.7", "deg": 55, "val": 0.51}, {"series": "pH 5.7", "deg": 60, "val": 0.37}, {"series": "pH 5.7", "deg": 65, "val": 0.26}, {"series": "pH 5.7", "deg": 70, "val": 0.18}, {"series": "pH 5.7", "deg": 75, "val": 0.13}, {"series": "pH 5.7", "deg": 80, "val": 0.09}, {"series": "pH 5.7", "deg": 85, "val": 0.07}, {"series": "pH 5.7", "deg": 93, "val": 0.04}
    ],
    "ptsB": [
      {"series": "pH 11", "deg": -90, "val": 0.165, "err": 0.035},
      {"series": "pH 11", "deg": -85, "val": 0.24, "err": 0.035},
      {"series": "pH 11", "deg": -80, "val": 0.27, "err": 0.04},
      {"series": "pH 11", "deg": -75, "val": 0.34, "err": 0.04},
      {"series": "pH 11", "deg": -70, "val": 0.38, "err": 0.045},
      {"series": "pH 11", "deg": -65, "val": 0.42, "err": 0.045},
      {"series": "pH 11", "deg": -60, "val": 0.45, "err": 0.045},
      {"series": "pH 11", "deg": -55, "val": 0.47, "err": 0.045},
      {"series": "pH 11", "deg": -50, "val": 0.48, "err": 0.045},
      {"series": "pH 11", "deg": -45, "val": 0.48, "err": 0.045},
      {"series": "pH 11", "deg": -40, "val": 0.43, "err": 0.04},
      {"series": "pH 11", "deg": -35, "val": 0.39, "err": 0.04},
      {"series": "pH 11", "deg": -30, "val": 0.33, "err": 0.035},
      {"series": "pH 11", "deg": -25, "val": 0.25, "err": 0.03},
      {"series": "pH 11", "deg": -20, "val": 0.17, "err": 0.03},
      {"series": "pH 11", "deg": -15, "val": 0.11, "err": 0.025},
      {"series": "pH 11", "deg": -10, "val": 0.07, "err": 0.02},
      {"series": "pH 11", "deg": -5, "val": 0.035, "err": 0.02},
      {"series": "pH 11", "deg": 5, "val": 0.04, "err": 0.02},
      {"series": "pH 11", "deg": 10, "val": 0.07, "err": 0.02},
      {"series": "pH 11", "deg": 15, "val": 0.14, "err": 0.025},
      {"series": "pH 11", "deg": 20, "val": 0.21, "err": 0.03},
      {"series": "pH 11", "deg": 25, "val": 0.28, "err": 0.035},
      {"series": "pH 11", "deg": 30, "val": 0.35, "err": 0.04},
      {"series": "pH 11", "deg": 35, "val": 0.41, "err": 0.045},
      {"series": "pH 11", "deg": 40, "val": 0.43, "err": 0.045},
      {"series": "pH 11", "deg": 45, "val": 0.45, "err": 0.045},
      {"series": "pH 11", "deg": 50, "val": 0.44, "err": 0.05},
      {"series": "pH 11", "deg": 55, "val": 0.44, "err": 0.05},
      {"series": "pH 11", "deg": 60, "val": 0.41, "err": 0.05},
      {"series": "pH 11", "deg": 65, "val": 0.37, "err": 0.05},
      {"series": "pH 11", "deg": 70, "val": 0.33, "err": 0.05},
      {"series": "pH 11", "deg": 75, "val": 0.29, "err": 0.05},
      {"series": "pH 11", "deg": 80, "val": 0.25, "err": 0.045},
      {"series": "pH 11", "deg": 85, "val": 0.18, "err": 0.035},
      {"series": "pH 11", "deg": 90, "val": 0.155, "err": 0.03},
      {"series": "pH 10", "deg": -90, "val": 0.105, "err": 0.03},
      {"series": "pH 10", "deg": -85, "val": 0.145, "err": 0.03},
      {"series": "pH 10", "deg": -80, "val": 0.19, "err": 0.035},
      {"series": "pH 10", "deg": -75, "val": 0.24, "err": 0.035},
      {"series": "pH 10", "deg": -70, "val": 0.28, "err": 0.04},
      {"series": "pH 10", "deg": -65, "val": 0.31, "err": 0.04},
      {"series": "pH 10", "deg": -60, "val": 0.35, "err": 0.045},
      {"series": "pH 10", "deg": -55, "val": 0.39, "err": 0.045},
      {"series": "pH 10", "deg": -50, "val": 0.41, "err": 0.045},
      {"series": "pH 10", "deg": -45, "val": 0.41, "err": 0.045},
      {"series": "pH 10", "deg": -40, "val": 0.43, "err": 0.045},
      {"series": "pH 10", "deg": -35, "val": 0.37, "err": 0.04},
      {"series": "pH 10", "deg": -30, "val": 0.34, "err": 0.04},
      {"series": "pH 10", "deg": -25, "val": 0.26, "err": 0.035},
      {"series": "pH 10", "deg": -20, "val": 0.19, "err": 0.03},
      {"series": "pH 10", "deg": -15, "val": 0.13, "err": 0.03},
      {"series": "pH 10", "deg": -10, "val": 0.08, "err": 0.025},
      {"series": "pH 10", "deg": -5, "val": 0.035, "err": 0.02},
      {"series": "pH 10", "deg": 5, "val": 0.04, "err": 0.02},
      {"series": "pH 10", "deg": 10, "val": 0.07, "err": 0.025},
      {"series": "pH 10", "deg": 15, "val": 0.14, "err": 0.03},
      {"series": "pH 10", "deg": 20, "val": 0.20, "err": 0.03},
      {"series": "pH 10", "deg": 25, "val": 0.26, "err": 0.035},
      {"series": "pH 10", "deg": 30, "val": 0.32, "err": 0.04},
      {"series": "pH 10", "deg": 35, "val": 0.38, "err": 0.045},
      {"series": "pH 10", "deg": 40, "val": 0.41, "err": 0.045},
      {"series": "pH 10", "deg": 45, "val": 0.40, "err": 0.045},
      {"series": "pH 10", "deg": 50, "val": 0.41, "err": 0.045},
      {"series": "pH 10", "deg": 55, "val": 0.38, "err": 0.045},
      {"series": "pH 10", "deg": 60, "val": 0.33, "err": 0.04},
      {"series": "pH 10", "deg": 65, "val": 0.30, "err": 0.04},
      {"series": "pH 10", "deg": 70, "val": 0.26, "err": 0.035},
      {"series": "pH 10", "deg": 75, "val": 0.22, "err": 0.035},
      {"series": "pH 10", "deg": 80, "val": 0.19, "err": 0.03},
      {"series": "pH 10", "deg": 85, "val": 0.15, "err": 0.03},
      {"series": "pH 10", "deg": 90, "val": 0.11, "err": 0.03},
      {"series": "pH 5.7", "deg": -90, "val": 0.04, "err": 0.02},
      {"series": "pH 5.7", "deg": -85, "val": 0.05, "err": 0.02},
      {"series": "pH 5.7", "deg": -80, "val": 0.06, "err": 0.02},
      {"series": "pH 5.7", "deg": -75, "val": 0.075, "err": 0.02},
      {"series": "pH 5.7", "deg": -70, "val": 0.085, "err": 0.02},
      {"series": "pH 5.7", "deg": -65, "val": 0.095, "err": 0.02},
      {"series": "pH 5.7", "deg": -60, "val": 0.11, "err": 0.02},
      {"series": "pH 5.7", "deg": -55, "val": 0.125, "err": 0.02},
      {"series": "pH 5.7", "deg": -50, "val": 0.135, "err": 0.02},
      {"series": "pH 5.7", "deg": -45, "val": 0.145, "err": 0.02},
      {"series": "pH 5.7", "deg": -40, "val": 0.16, "err": 0.02},
      {"series": "pH 5.7", "deg": -35, "val": 0.175, "err": 0.02},
      {"series": "pH 5.7", "deg": -30, "val": 0.18, "err": 0.02},
      {"series": "pH 5.7", "deg": -25, "val": 0.17, "err": 0.02},
      {"series": "pH 5.7", "deg": -20, "val": 0.15, "err": 0.02},
      {"series": "pH 5.7", "deg": -15, "val": 0.11, "err": 0.02},
      {"series": "pH 5.7", "deg": -10, "val": 0.07, "err": 0.02},
      {"series": "pH 5.7", "deg": -5, "val": 0.035, "err": 0.015},
      {"series": "pH 5.7", "deg": 5, "val": 0.04, "err": 0.015},
      {"series": "pH 5.7", "deg": 10, "val": 0.075, "err": 0.02},
      {"series": "pH 5.7", "deg": 15, "val": 0.125, "err": 0.02},
      {"series": "pH 5.7", "deg": 20, "val": 0.15, "err": 0.02},
      {"series": "pH 5.7", "deg": 25, "val": 0.175, "err": 0.02},
      {"series": "pH 5.7", "deg": 30, "val": 0.18, "err": 0.02},
      {"series": "pH 5.7", "deg": 35, "val": 0.18, "err": 0.02},
      {"series": "pH 5.7", "deg": 40, "val": 0.17, "err": 0.02},
      {"series": "pH 5.7", "deg": 45, "val": 0.155, "err": 0.02},
      {"series": "pH 5.7", "deg": 50, "val": 0.14, "err": 0.02},
      {"series": "pH 5.7", "deg": 55, "val": 0.125, "err": 0.02},
      {"series": "pH 5.7", "deg": 60, "val": 0.11, "err": 0.02},
      {"series": "pH 5.7", "deg": 65, "val": 0.1, "err": 0.02},
      {"series": "pH 5.7", "deg": 70, "val": 0.09, "err": 0.02},
      {"series": "pH 5.7", "deg": 75, "val": 0.08, "err": 0.02},
      {"series": "pH 5.7", "deg": 80, "val": 0.06, "err": 0.02},
      {"series": "pH 5.7", "deg": 85, "val": 0.05, "err": 0.02},
      {"series": "pH 5.7", "deg": 90, "val": 0.03, "err": 0.02}
    ],
    "fitB": [
      {"series": "pH 11", "deg": -95, "val": 0.18}, {"series": "pH 11", "deg": -90, "val": 0.23}, {"series": "pH 11", "deg": -85, "val": 0.28}, {"series": "pH 11", "deg": -80, "val": 0.33}, {"series": "pH 11", "deg": -75, "val": 0.38}, {"series": "pH 11", "deg": -70, "val": 0.43}, {"series": "pH 11", "deg": -65, "val": 0.47}, {"series": "pH 11", "deg": -60, "val": 0.50}, {"series": "pH 11", "deg": -55, "val": 0.515}, {"series": "pH 11", "deg": -50, "val": 0.52}, {"series": "pH 11", "deg": -45, "val": 0.51}, {"series": "pH 11", "deg": -40, "val": 0.48}, {"series": "pH 11", "deg": -35, "val": 0.43}, {"series": "pH 11", "deg": -30, "val": 0.36}, {"series": "pH 11", "deg": -25, "val": 0.28}, {"series": "pH 11", "deg": -20, "val": 0.20}, {"series": "pH 11", "deg": -15, "val": 0.12}, {"series": "pH 11", "deg": -10, "val": 0.06}, {"series": "pH 11", "deg": -5, "val": 0.015}, {"series": "pH 11", "deg": 0, "val": 0.0},
      {"series": "pH 11", "deg": 5, "val": 0.015}, {"series": "pH 11", "deg": 10, "val": 0.06}, {"series": "pH 11", "deg": 15, "val": 0.12}, {"series": "pH 11", "deg": 20, "val": 0.19}, {"series": "pH 11", "deg": 25, "val": 0.26}, {"series": "pH 11", "deg": 30, "val": 0.34}, {"series": "pH 11", "deg": 35, "val": 0.41}, {"series": "pH 11", "deg": 40, "val": 0.46}, {"series": "pH 11", "deg": 45, "val": 0.50}, {"series": "pH 11", "deg": 50, "val": 0.518}, {"series": "pH 11", "deg": 55, "val": 0.515}, {"series": "pH 11", "deg": 60, "val": 0.49}, {"series": "pH 11", "deg": 65, "val": 0.44}, {"series": "pH 11", "deg": 70, "val": 0.38}, {"series": "pH 11", "deg": 75, "val": 0.33}, {"series": "pH 11", "deg": 80, "val": 0.28}, {"series": "pH 11", "deg": 85, "val": 0.25}, {"series": "pH 11", "deg": 91, "val": 0.21},
      {"series": "pH 10", "deg": -91, "val": 0.095}, {"series": "pH 10", "deg": -85, "val": 0.15}, {"series": "pH 10", "deg": -80, "val": 0.20}, {"series": "pH 10", "deg": -75, "val": 0.25}, {"series": "pH 10", "deg": -70, "val": 0.30}, {"series": "pH 10", "deg": -65, "val": 0.345}, {"series": "pH 10", "deg": -60, "val": 0.38}, {"series": "pH 10", "deg": -55, "val": 0.41}, {"series": "pH 10", "deg": -50, "val": 0.43}, {"series": "pH 10", "deg": -45, "val": 0.435}, {"series": "pH 10", "deg": -40, "val": 0.43}, {"series": "pH 10", "deg": -35, "val": 0.40}, {"series": "pH 10", "deg": -30, "val": 0.34}, {"series": "pH 10", "deg": -25, "val": 0.27}, {"series": "pH 10", "deg": -20, "val": 0.19}, {"series": "pH 10", "deg": -15, "val": 0.12}, {"series": "pH 10", "deg": -10, "val": 0.06}, {"series": "pH 10", "deg": -5, "val": 0.015}, {"series": "pH 10", "deg": 0, "val": 0.0},
      {"series": "pH 10", "deg": 5, "val": 0.015}, {"series": "pH 10", "deg": 10, "val": 0.06}, {"series": "pH 10", "deg": 15, "val": 0.12}, {"series": "pH 10", "deg": 20, "val": 0.19}, {"series": "pH 10", "deg": 25, "val": 0.27}, {"series": "pH 10", "deg": 30, "val": 0.34}, {"series": "pH 10", "deg": 35, "val": 0.40}, {"series": "pH 10", "deg": 40, "val": 0.43}, {"series": "pH 10", "deg": 45, "val": 0.435}, {"series": "pH 10", "deg": 50, "val": 0.43}, {"series": "pH 10", "deg": 55, "val": 0.41}, {"series": "pH 10", "deg": 60, "val": 0.38}, {"series": "pH 10", "deg": 65, "val": 0.345}, {"series": "pH 10", "deg": 70, "val": 0.30}, {"series": "pH 10", "deg": 75, "val": 0.25}, {"series": "pH 10", "deg": 80, "val": 0.20}, {"series": "pH 10", "deg": 85, "val": 0.15}, {"series": "pH 10", "deg": 91, "val": 0.095},
      {"series": "pH 5.7", "deg": -91, "val": 0.04}, {"series": "pH 5.7", "deg": -80, "val": 0.06}, {"series": "pH 5.7", "deg": -70, "val": 0.085}, {"series": "pH 5.7", "deg": -60, "val": 0.11}, {"series": "pH 5.7", "deg": -50, "val": 0.14}, {"series": "pH 5.7", "deg": -45, "val": 0.155}, {"series": "pH 5.7", "deg": -40, "val": 0.17}, {"series": "pH 5.7", "deg": -35, "val": 0.18}, {"series": "pH 5.7", "deg": -30, "val": 0.18}, {"series": "pH 5.7", "deg": -25, "val": 0.17}, {"series": "pH 5.7", "deg": -20, "val": 0.145}, {"series": "pH 5.7", "deg": -15, "val": 0.11}, {"series": "pH 5.7", "deg": -10, "val": 0.065}, {"series": "pH 5.7", "deg": -5, "val": 0.02}, {"series": "pH 5.7", "deg": 0, "val": 0.0},
      {"series": "pH 5.7", "deg": 5, "val": 0.02}, {"series": "pH 5.7", "deg": 10, "val": 0.065}, {"series": "pH 5.7", "deg": 15, "val": 0.11}, {"series": "pH 5.7", "deg": 20, "val": 0.145}, {"series": "pH 5.7", "deg": 25, "val": 0.17}, {"series": "pH 5.7", "deg": 30, "val": 0.18}, {"series": "pH 5.7", "deg": 35, "val": 0.18}, {"series": "pH 5.7", "deg": 40, "val": 0.17}, {"series": "pH 5.7", "deg": 45, "val": 0.155}, {"series": "pH 5.7", "deg": 50, "val": 0.14}, {"series": "pH 5.7", "deg": 60, "val": 0.11}, {"series": "pH 5.7", "deg": 70, "val": 0.085}, {"series": "pH 5.7", "deg": 80, "val": 0.06}, {"series": "pH 5.7", "deg": 91, "val": 0.04}
    ],
    "pot": [
      {"series": "Φ₀", "pH": 5.7, "val": -0.040, "err": 0.010},
      {"series": "Φ₀", "pH": 10, "val": -0.016, "err": 0.010},
      {"series": "Φ₀", "pH": 11, "val": -0.157, "err": 0.042},
      {"series": "ζ", "pH": 5.7, "val": -0.037, "err": 0},
      {"series": "ζ", "pH": 10, "val": -0.039, "err": 0},
      {"series": "ζ", "pH": 11, "val": -0.038, "err": 0}
    ],
    "chi": [
      {"series": "χS, 2⁽²⁾", "pH": 5.7, "val": -1.5, "err": 0.2},
      {"series": "χS, 2⁽²⁾", "pH": 10, "val": -2.7, "err": 0.2},
      {"series": "χS, 2⁽²⁾", "pH": 11, "val": 4.7, "err": 0.5}
    ],
    "table": [
      {"row": "header", "col": "NaOH", "label": "NaOH"},
      {"row": "header", "col": "R", "top": "R", "bot": "(nm)"},
      {"row": "header", "col": "zeta", "top": "ζ", "bot": "(mV)"},
      {"row": "header", "col": "Phi", "top": "Φ₀", "bot": "(mV)"},
      {"row": "header", "col": "chi", "top": "χ", "sup": "(2)", "sub": "S, 2", "bot": "(10⁻²²m²/V)"},
      {"row": "pH 5.7", "col": "NaOH", "label": "pH 5.7"},
      {"row": "pH 5.7", "col": "R", "top": "145", "bot": "(20)"},
      {"row": "pH 5.7", "col": "zeta", "top": "-37", "bot": "(19)"},
      {"row": "pH 5.7", "col": "Phi", "top": "- 40", "bot": "(10)"},
      {"row": "pH 5.7", "col": "chi", "top": "-1.5", "bot": "(0.2)"},
      {"row": "pH 10", "col": "NaOH", "label": "pH 10"},
      {"row": "pH 10", "col": "R", "top": "148", "bot": "(16)"},
      {"row": "pH 10", "col": "zeta", "top": "-39", "bot": "(18)"},
      {"row": "pH 10", "col": "Phi", "top": "- 16", "bot": "(10)"},
      {"row": "pH 10", "col": "chi", "top": "-2.7", "bot": "(0.2)"},
      {"row": "pH 11", "col": "NaOH", "label": "pH 11"},
      {"row": "pH 11", "col": "R", "top": "142", "bot": "(21)"},
      {"row": "pH 11", "col": "zeta", "top": "-38", "bot": "(21)"},
      {"row": "pH 11", "col": "Phi", "top": "- 157", "bot": "(42)"},
      {"row": "pH 11", "col": "chi", "top": "4.7", "bot": "(0.5)"}
    ]
  },
  "config": {
    "font": "Liberation Sans",
    "view": {"stroke": null},
    "axis": {"grid": false, "domain": true, "domainColor": "#1a1a1a", "domainWidth": 1.6, "domainCap": "square", "labelFont": "Liberation Sans", "labelFontSize": 14, "labelFontWeight": "bold", "labelColor": "#1a1a1a",
             "titleFont": "Liberation Sans", "titleFontSize": 15, "titleFontWeight": "bold", "titleColor": "#1a1a1a",
             "tickColor": "#1a1a1a", "tickWidth": 1.5, "tickSize": -5, "labelPadding": 8},
    "legend": {"labelFont": "Liberation Sans", "padding": 0},
    "title": {"font": "Liberation Sans", "fontSize": 15, "fontWeight": "bold", "anchor": "start", "frame": "group", "color": "#1a1a1a", "offset": 0}
  }
}
